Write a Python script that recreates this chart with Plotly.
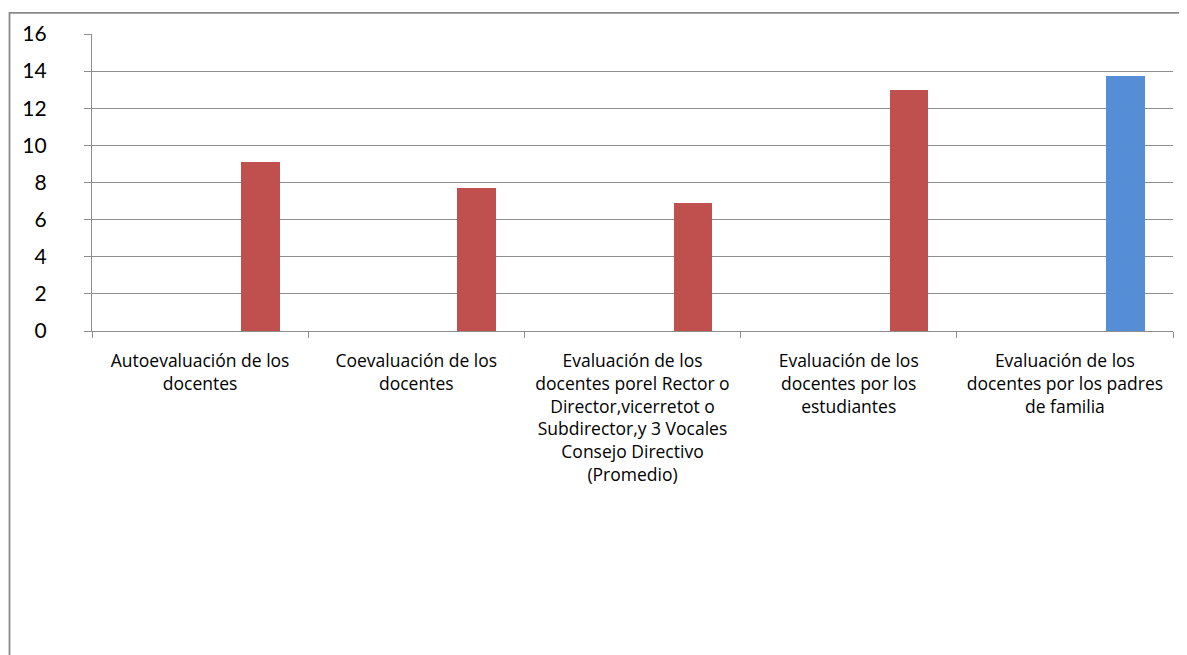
import plotly.graph_objects as go

categories = [
    "Autoevaluación de los<br>docentes",
    "Coevaluación de los<br>docentes",
    "Evaluación de los<br>docentes porel Rector o<br>Director,vicerretot o<br>Subdirector,y 3 Vocales<br>Consejo Directivo<br>(Promedio)",
    "Evaluación de los<br>docentes por los<br>estudiantes",
    "Evaluación de los<br>docentes por los padres<br>de familia",
]
values = [9.1, 7.72, 6.9, 12.97, 13.76]
bar_colors = ["#C0504D", "#C0504D", "#C0504D", "#C0504D", "#558ED5"]
y_ticks = [0, 2, 4, 6, 8, 10, 12, 14, 16]

# page body has an 8px margin; size the figure so it fits the window
OFF = 8
W, H = 1187 - OFF, 655 - OFF
ML, MR, MT, MB = 92 - OFF, 14, 30 - OFF, 324

fig = go.Figure()
fig.add_trace(go.Bar(
    x=categories,
    y=values,
    marker=dict(color=bar_colors, line=dict(width=0)),
    offset=0.19,
    width=0.179,
    showlegend=False,
    hoverinfo="x+y",
))

grid = "#8e8e8e"
pw = W - ML - MR
ph = H - MT - MB

def px_to_paper_x(px):
    return (px - OFF - ML) / pw

def px_to_paper_y(py):
    return (H - MB - (py - OFF)) / ph

fig.add_shape(
    type="rect", xref="paper", yref="paper",
    x0=px_to_paper_x(9.5), x1=px_to_paper_x(1220),
    y0=px_to_paper_y(700), y1=px_to_paper_y(8.5),
    line=dict(color="#8a8a8a", width=1.8),
    fillcolor="rgba(0,0,0,0)", layer="below",
)

fig.update_layout(
    width=W, height=H,
    margin=dict(l=ML, r=MR, t=MT, b=MB, pad=0),
    paper_bgcolor="white", plot_bgcolor="white",
    font=dict(family="Lato, Carlito, Calibri, sans-serif", color="#000000"),
    bargap=0,
)
fig.update_xaxes(
    type="category",
    tickson="boundaries",
    ticks="outside", ticklen=6, tickcolor=grid, tickwidth=1.2,
    showgrid=False,
    showline=True, linecolor=grid, linewidth=1.2,
    tickfont=dict(family="Open Sans, sans-serif", size=17.5, color="#000000"),
    ticklabelstandoff=14,
    tickangle=0,
    range=[-0.5, 4.5],
    fixedrange=True,
)
fig.update_yaxes(
    range=[0, 16],
    tickvals=y_ticks,
    ticktext=[str(v) for v in y_ticks],
    ticks="outside", ticklen=7, tickcolor=grid, tickwidth=1.2,
    showgrid=True, gridcolor=grid, gridwidth=1.2,
    showline=True, linecolor=grid, linewidth=1.2,
    zeroline=False,
    tickfont=dict(size=21, color="#000000"),
    ticklabelstandoff=33,
    fixedrange=True,
)

fig.write_html("out.html")
